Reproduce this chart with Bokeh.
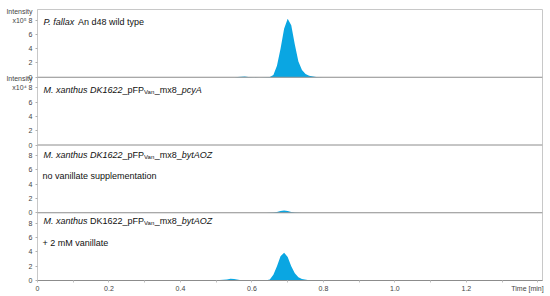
from bokeh.plotting import figure
from bokeh.models import Range1d, FixedTicker, CustomJSTickFormatter, Span, Label
from bokeh.embed import file_html
from bokeh.resources import INLINE

# ---------------- data ----------------
# retention time [min] and intensity (axis units 0..8) for each trace, top to bottom
t_wild = [0.50, 0.55, 0.57, 0.58, 0.59, 0.62, 0.65, 0.66, 0.67, 0.68, 0.69, 0.70,
          0.71, 0.72, 0.73, 0.74, 0.75, 0.76, 0.78, 0.80, 0.85]
i_wild = [0.0, 0.0, 0.08, 0.10, 0.05, 0.0, 0.05, 0.30, 1.6, 4.0, 6.8, 8.2,
          7.3, 4.6, 2.2, 1.0, 0.45, 0.20, 0.05, 0.0, 0.0]

t_pcya = [0.60, 0.70, 0.80]
i_pcya = [0.0, 0.0, 0.0]

t_novan = [0.64, 0.66, 0.67, 0.68, 0.69, 0.70, 0.71, 0.72, 0.74]
i_novan = [0.0, 0.02, 0.10, 0.25, 0.30, 0.25, 0.10, 0.02, 0.0]

t_van = [0.48, 0.50, 0.53, 0.54, 0.55, 0.57, 0.60, 0.64, 0.65, 0.66, 0.67, 0.68,
         0.69, 0.70, 0.71, 0.72, 0.73, 0.74, 0.76, 0.78, 0.80, 0.85]
i_van = [0.0, 0.02, 0.15, 0.25, 0.20, 0.05, 0.0, 0.02, 0.15, 0.8, 2.0, 3.4,
         3.9, 3.3, 2.0, 1.0, 0.45, 0.20, 0.05, 0.02, 0.0, 0.0]

traces = [(t_wild, i_wild), (t_pcya, i_pcya), (t_novan, i_novan), (t_van, i_van)]

x_ticks = [0, 0.2, 0.4, 0.6, 0.8, 1.0, 1.2]
x_minor = [0, 0.1, 0.2, 0.3, 0.4, 0.5, 0.6, 0.7, 0.8, 0.9, 1.0, 1.1, 1.2, 1.3, 1.4]
y_ticks = [0, 2, 4, 6, 8]
exponents = ["x10\u2075", "x10\u2074", None, None]
x_caption = "Time [min]"
y_caption = "Intensity"

# ---------------- layout constants ----------------
XMAX = 1.413
H = 9.5                # data height of one panel
YMAX = 4 * H
FL, FR, FT, FB = 37, 542, 9, 280   # frame edges on the page (px)
FONT = "Liberation Sans"
BLUE = "#0aa6e2"
PPU = (FB - FT) / YMAX


def dx(px):
    return (px - FL) / (FR - FL) * XMAX


def dy(py):
    return (FB - py) / (FB - FT) * YMAX


W = {' ': 278, '.': 278, '_': 556, '+': 584, '[': 278, ']': 278,
     'A': 667, 'D': 722, 'K': 667, 'M': 833, 'O': 778, 'P': 667, 'Z': 611,
     'F': 611, 'V': 667, 'T': 611,
     'a': 556, 'b': 556, 'c': 500, 'd': 556, 'e': 556, 'f': 278, 'g': 556,
     'h': 556, 'i': 222, 'l': 222, 'm': 833, 'n': 556, 'o': 556, 'p': 556,
     'r': 333, 's': 500, 't': 278, 'u': 556, 'v': 500, 'w': 722, 'x': 500,
     'y': 500}


def tw(s, size):
    return sum(W.get(c, 556) for c in s) / 1000.0 * size


p = figure(width=550, height=296, output_backend="svg", toolbar_location=None,
           x_range=Range1d(0, XMAX), y_range=Range1d(0, YMAX),
           min_border_left=FL, min_border_right=550 - FR, min_border_top=FT,
           min_border_bottom=296 - FB)
p.grid.visible = False
p.outline_line_color = "#c8c8c8"
p.outline_line_width = 1
p.background_fill_color = "white"
p.border_fill_color = "white"

# traces (filled chromatogram peaks)
for k, (t, inten) in enumerate(traces):
    base = (3 - k) * H
    y2 = [base + v for v in inten]
    p.varea(x=t, y1=[base] * len(t), y2=y2, fill_color=BLUE)

# panel separators
for k in range(1, 4):
    p.add_layout(Span(location=k * H, dimension="width", line_color="#8c8c8c", line_width=1))

# ---- y axis: numeric ticks for every panel + caption ticks ----
yt, yl, ym = [], [], []
for k in range(4):
    base = (3 - k) * H
    for v in y_ticks:
        yt.append(base + v)
        ym.append(base + v)
        if v == 8 and exponents[k]:
            yl.append(exponents[k] + " " + str(v))
        else:
            yl.append(str(v))
    if exponents[k]:
        yt.append(base + 8 + 9.0 / PPU)
        yl.append(y_caption)

p.yaxis.ticker = FixedTicker(ticks=yt, minor_ticks=ym)
p.yaxis.formatter = CustomJSTickFormatter(args=dict(tv=yt, tl=yl), code="""
let best = 0, d = 1e9;
for (let i = 0; i < tv.length; i++) {
  const e = Math.abs(tv[i] - tick);
  if (e < d) { d = e; best = i; }
}
return tl[best];
""")
p.yaxis.axis_line_color = "#c8c8c8"
p.yaxis.major_tick_out = 0
p.yaxis.major_tick_in = 0
p.yaxis.minor_tick_line_color = "#b0b0b0"
p.yaxis.minor_tick_out = 2
p.yaxis.minor_tick_in = 0
p.yaxis.major_label_standoff = 3
p.yaxis.major_label_text_font = FONT
p.yaxis.major_label_text_font_size = "7px"
p.yaxis.major_label_text_color = "#444444"

# ---- x axis: numeric ticks + caption at the right end ----
xt = list(x_ticks) + [dx(527)]
xl = ["0" if v == 0 else f"{v:.1f}" for v in x_ticks] + [x_caption]
p.xaxis.ticker = FixedTicker(ticks=xt, minor_ticks=x_minor)
p.xaxis.formatter = CustomJSTickFormatter(args=dict(tv=xt, tl=xl), code="""
let best = 0, d = 1e9;
for (let i = 0; i < tv.length; i++) {
  const e = Math.abs(tv[i] - tick);
  if (e < d) { d = e; best = i; }
}
return tl[best];
""")
p.xaxis.axis_line_color = "#8c8c8c"
p.xaxis.major_tick_out = 0
p.xaxis.major_tick_in = 0
p.xaxis.minor_tick_line_color = "#c0c0c0"
p.xaxis.minor_tick_out = 2
p.xaxis.minor_tick_in = 0
p.xaxis.major_label_standoff = 2
p.xaxis.major_label_text_font = FONT
p.xaxis.major_label_text_font_size = "7px"
p.xaxis.major_label_text_color = "#444444"


def lab(px, py, text, size=9, style="normal", align="left", color="#111111"):
    p.add_layout(Label(x=dx(px), y=dy(py), text=text, text_font=FONT,
                       text_font_size=f"{size}px", text_font_style=style,
                       text_align=align, text_baseline="middle", text_color=color))


def segments(px, py, segs):
    x = px
    for text, style, sub in segs:
        size = 6 if sub else 9
        stripped = text.lstrip(" ")
        x += tw(text[:len(text) - len(stripped)], size)
        body = stripped.rstrip(" ")
        lab(x, py + (2.5 if sub else 0), body, size=size, style=style)
        x += tw(stripped, size)


# panel titles
segments(43, 21, [("P. fallax", "italic", False), (" An d48 wild type", "normal", False)])
segments(43, 89, [("M. xanthus DK1622", "italic", False), ("_pFP", "normal", False),
                  ("Van", "normal", True), ("_mx8_", "normal", False),
                  ("pcyA", "italic", False)])
segments(43, 154, [("M. xanthus DK1622", "italic", False), ("_pFP", "normal", False),
                   ("Van", "normal", True), ("_mx8_", "normal", False),
                   ("bytAOZ", "italic", False)])
lab(42, 175, "no vanillate supplementation")
segments(43, 220, [("M. xanthus", "italic", False), (" DK1622_pFP", "normal", False),
                   ("Van", "normal", True), ("_mx8_", "normal", False),
                   ("bytAOZ", "italic", False)])
lab(42, 242, "+ 2 mM vanillate")

open("out.html", "w").write(file_html(p, INLINE))
